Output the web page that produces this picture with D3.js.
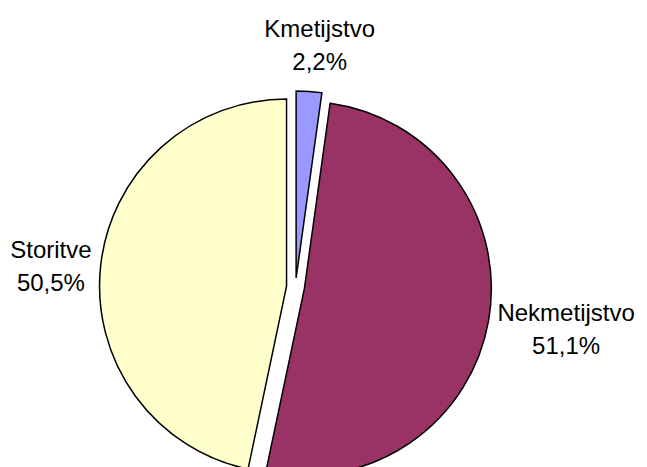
<!DOCTYPE html>
<html>
<head>
<meta charset="utf-8">
<script src="https://cdn.jsdelivr.net/npm/d3@7"></script>
<style>
  body { margin: 0; background: #fff; }
  svg { display: block; }
</style>
</head>
<body>
<div id="chart"></div>
<script>
// data
const categories = ["Kmetijstvo", "Nekmetijstvo", "Storitve"];
const shares = [2.2, 51.1, 46.7];          // slice sizes as drawn
const labelTexts = ["2,2%", "51,1%", "50,5%"]; // printed labels
const sliceColors = ["#9999ff", "#993366", "#ffffcc"];

const width = 647, height = 467;
const cx = 295.5, cy = 287, R = 187;
const explode = 9;
const lineH = 33;

const svg = d3.select("#chart").append("svg")
    .attr("width", width)
    .attr("height", height);

const color = d3.scaleOrdinal().domain(categories).range(sliceColors);

const pie = d3.pie().sort(null).value(d => d.v);
const arcs = pie(categories.map((c, i) => ({name: c, v: shares[i], label: labelTexts[i]})));

const arc = d3.arc().innerRadius(0).outerRadius(R);

const g = svg.append("g").attr("transform", "translate(" + cx + "," + cy + ")");

g.selectAll("path").data(arcs)
  .enter().append("path")
    .attr("d", arc)
    .attr("transform", function(d) {
        const a = (d.startAngle + d.endAngle) / 2;
        return "translate(" + (explode * Math.sin(a)) + "," + (-explode * Math.cos(a)) + ")";
    })
    .attr("fill", d => color(d.data.name))
    .attr("stroke", "#000")
    .attr("stroke-width", 1.5)
    .attr("stroke-linejoin", "miter");

// labels
const rl = R + 18;
arcs.forEach(function(d) {
    const a = (d.startAngle + d.endAngle) / 2;
    const px = cx + rl * Math.sin(a);
    const py = cy - rl * Math.cos(a);

    const t = svg.append("text")
        .attr("font-family", "'Liberation Sans', Arial, sans-serif")
        .attr("font-size", "24px")
        .attr("fill", "#000")
        .attr("text-anchor", "middle");
    const l1 = t.append("tspan").text(d.data.name);
    const l2 = t.append("tspan").text(d.data.label);

    const w = Math.max(l1.node().getComputedTextLength(), l2.node().getComputedTextLength());
    let x, y0;
    if (Math.sin(a) > 0.5) {
        x = px + w / 2; y0 = py - 1.5;
    } else if (Math.sin(a) < -0.5) {
        x = px - w / 2; y0 = py - 7.5;
    } else {
        x = px + 10; y0 = py - lineH - 12;
    }
    l1.attr("x", x).attr("y", y0);
    l2.attr("x", x).attr("y", y0 + lineH);
});
</script>
</body>
</html>
